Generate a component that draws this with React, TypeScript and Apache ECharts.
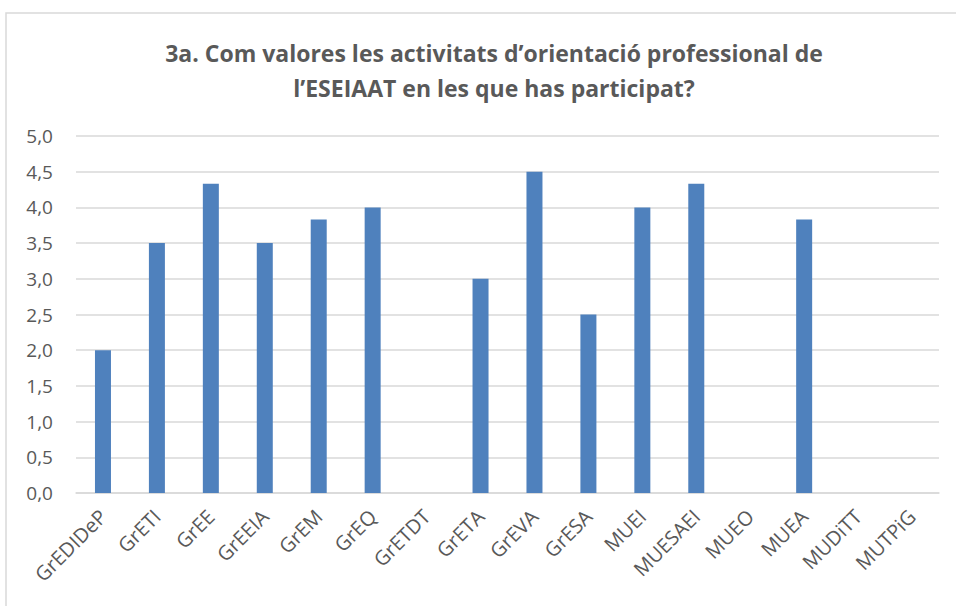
import React, { useEffect, useRef } from "react";
import * as echarts from "echarts";

const categories = ["GrEDIDeP", "GrETI", "GrEE", "GrEEIA", "GrEM", "GrEQ", "GrETDT", "GrETA", "GrEVA", "GrESA", "MUEI", "MUESAEI", "MUEO", "MUEA", "MUDiTT", "MUTPiG"];
const values = [2.0, 3.5, 4.33, 3.5, 3.83, 4.0, 0, 3.0, 4.5, 2.5, 4.0, 4.33, 0, 3.83, 0, 0];
const titleLines = ["3a. Com valores les activitats d’orientació professional de", "l’ESEIAAT en les que has participat?"];

export default function App() {
  const ref = useRef<HTMLDivElement>(null);
  useEffect(() => {
    const chart = echarts.init(ref.current!, null, { renderer: "svg" });
    chart.setOption({
      animation: false,
      backgroundColor: "#ffffff",
      graphic: [
        {
          type: "rect",
          shape: { x: 6, y: 13, width: 970, height: 620 },
          style: { fill: "none", stroke: "#d9d9d9", lineWidth: 1.5 },
          silent: true,
        },
      ],
      title: {
        text: titleLines.join("\n"),
        left: 489,
        textAlign: "center",
        top: 30,
        textStyle: {
          fontFamily: "Open Sans",
          fontWeight: "bold",
          fontSize: 23,
          lineHeight: 35,
          color: "#595959",
        },
      },
      grid: { left: 76, right: 17, top: 136, bottom: 113 },
      xAxis: {
        type: "category",
        data: categories,
        axisLine: { lineStyle: { color: "#d9d9d9", width: 1.5 } },
        axisTick: { show: false },
        axisLabel: {
          rotate: 45,
          interval: 0,
          fontFamily: "Open Sans",
          fontSize: 20,
          color: "#595959",
          margin: 20,
        },
      },
      yAxis: {
        type: "value",
        min: 0,
        max: 5,
        interval: 0.5,
        axisLine: { show: false },
        axisTick: { show: false },
        splitLine: { lineStyle: { color: "#d9d9d9", width: 1.5 } },
        axisLabel: {
          fontFamily: "Open Sans",
          fontSize: 19,
          color: "#595959",
          margin: 23,
          formatter: (v: number) => v.toFixed(1).replace(".", ","),
        },
      },
      series: [
        {
          type: "bar",
          data: values,
          barWidth: 16,
          itemStyle: { color: "#4f81bd" },
        },
      ],
    });
    return () => chart.dispose();
  }, []);
  return <div ref={ref} style={{ width: 956, height: 606, position: "absolute", left: 0, top: 0 }} />;
}
